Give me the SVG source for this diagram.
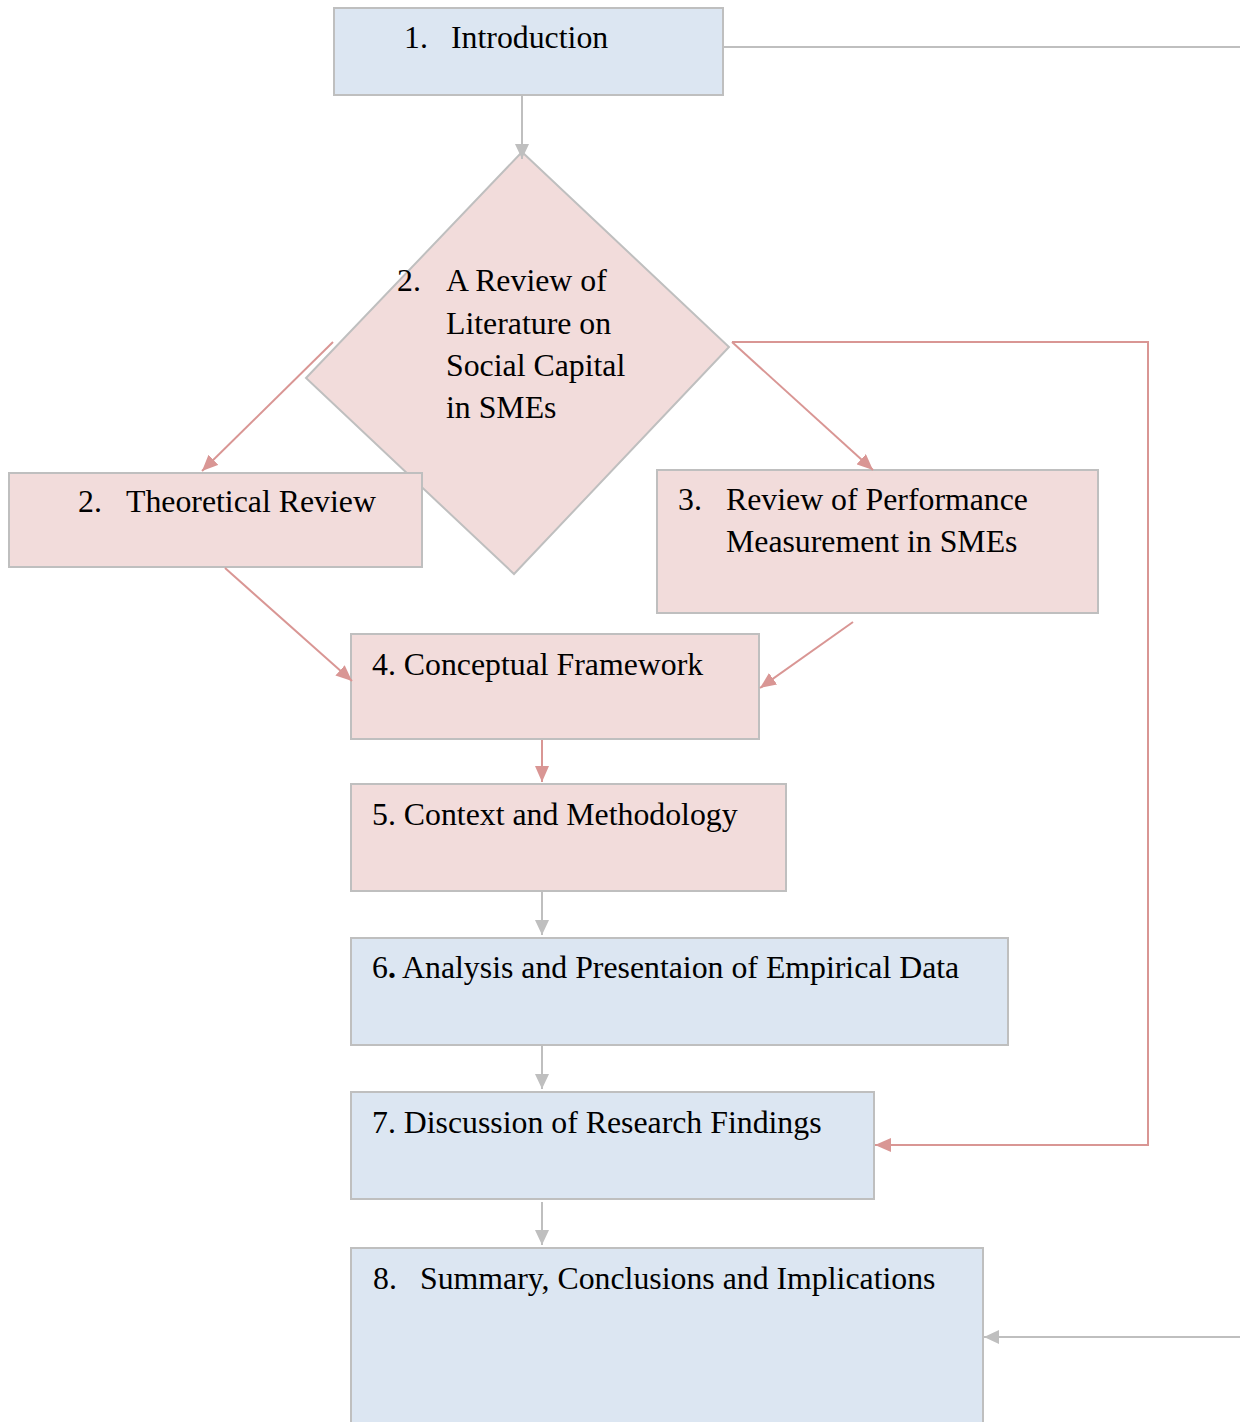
<svg xmlns="http://www.w3.org/2000/svg" width="1240" height="1422" viewBox="0 0 1240 1422">
<defs>
<style>
.blue{fill:#dce6f2;stroke:#bfbfbf;stroke-width:2}
.pink{fill:#f2dcdb;stroke:#bfbfbf;stroke-width:2}
.t{font-family:"Liberation Serif","Times New Roman",serif;font-size:31.8px;fill:#000}
.g{fill:none;stroke:#bfbfbf;stroke-width:2}
.r{fill:none;stroke:#d99694;stroke-width:2}
</style>
<marker id="ag" markerUnits="userSpaceOnUse" viewBox="0 0 15 14" refX="15" refY="7" markerWidth="15" markerHeight="14" orient="auto"><path d="M0,0 L15,7 L0,14 z" fill="#bfbfbf"/></marker>
<marker id="ar" markerUnits="userSpaceOnUse" viewBox="0 0 16 14" refX="16" refY="7" markerWidth="16" markerHeight="14" orient="auto"><path d="M0,0 L16,7 L0,14 z" fill="#d99694"/></marker>
</defs>
<rect width="1240" height="1422" fill="#fff"/>
<g id="n1"><rect class="blue" x="334" y="8" width="389" height="87"/><text class="t" x="404" y="48">1.</text><text class="t" x="451" y="48">Introduction</text></g>
<g id="n2"><polygon class="pink" points="522,152 729,347 514,574 306,378"/>
<text class="t" x="397" y="291">2.</text>
<text class="t" x="446" y="291">A Review of</text>
<text class="t" x="446" y="334">Literature on</text>
<text class="t" x="446" y="376">Social Capital</text>
<text class="t" x="446" y="418">in SMEs</text></g>
<g id="n2b"><rect class="pink" x="9" y="473" width="413" height="94"/><text class="t" x="78" y="512">2.</text><text class="t" x="126" y="512">Theoretical Review</text></g>
<g id="n3"><rect class="pink" x="657" y="470" width="441" height="143"/><text class="t" x="678" y="510">3.</text><text class="t" x="726" y="510">Review of Performance</text><text class="t" x="726" y="552">Measurement in SMEs</text></g>
<g id="n4"><rect class="pink" x="351" y="634" width="408" height="105"/><text class="t" x="372" y="675">4. Conceptual Framework</text></g>
<g id="n5"><rect class="pink" x="351" y="784" width="435" height="107"/><text class="t" x="372" y="825">5. Context and Methodology</text></g>
<g id="n6"><rect class="blue" x="351" y="938" width="657" height="107"/><text class="t" x="372" y="978">6<tspan font-weight="bold">.</tspan> Analysis and Presentaion of Empirical Data</text></g>
<g id="n7"><rect class="blue" x="351" y="1092" width="523" height="107"/><text class="t" x="372" y="1133">7. Discussion of Research Findings</text></g>
<g id="n8"><rect class="blue" x="351" y="1248" width="632" height="190"/><text class="t" x="373" y="1289">8.</text><text class="t" x="420" y="1289">Summary, Conclusions and Implications</text></g>
<g id="connectors">
<path class="g" d="M522,95 L522,159" marker-end="url(#ag)"/>
<path class="g" d="M723,47 L1252,47 L1252,1337 L984,1337" marker-end="url(#ag)"/>
<path class="r" d="M333,342 L202,471" marker-end="url(#ar)"/>
<path class="r" d="M732,342 L873,470" marker-end="url(#ar)"/>
<path class="r" d="M732,342 L1148,342 L1148,1145 L875,1145" marker-end="url(#ar)"/>
<path class="r" d="M225,568 L352,681" marker-end="url(#ar)"/>
<path class="r" d="M853,622 L760,688" marker-end="url(#ar)"/>
<path class="r" d="M542,740 L542,782" marker-end="url(#ar)"/>
<path class="g" d="M542,892 L542,935" marker-end="url(#ag)"/>
<path class="g" d="M542,1046 L542,1089" marker-end="url(#ag)"/>
<path class="g" d="M542,1202 L542,1245" marker-end="url(#ag)"/>
</g>
</svg>
